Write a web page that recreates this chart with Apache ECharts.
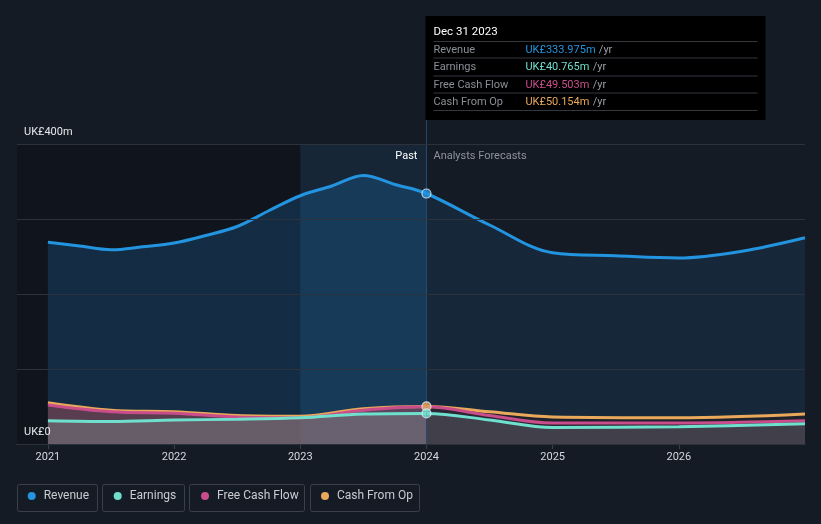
<!DOCTYPE html>
<html><head><meta charset="utf-8">
<script src="https://cdn.jsdelivr.net/npm/echarts@6/dist/echarts.min.js"></script>
<style>html,body{margin:0;padding:0;background:#151b25;}#c{width:821px;height:524px;}</style>
</head><body><div id="c"></div>
<script>
// ---- data ----
const yearTicks = [2021, 2022, 2023, 2024, 2025, 2026];
const yTicks = [0, 100, 200, 300, 400];
const yLabelTicks = [0, 400];
const seriesNames = ['Revenue', 'Earnings', 'Free Cash Flow', 'Cash From Op'];
const seriesColors = ['#2394df', '#6fe0cd', '#c94d8a', '#e9a85a'];
const revenue = [[2021,269],[2021.25,264],[2021.5,259],[2021.75,263],[2022,268],[2022.25,278],[2022.5,290],[2022.75,311],[2023,331],[2023.25,344],[2023.5,358],[2023.75,346],[2024,334],[2024.5,292],[2025,255],[2025.5,251],[2026,248],[2026.5,257],[2027,275]];
const earnings = [[2021,31],[2021.5,30],[2022,32],[2022.5,33],[2023,35],[2023.5,40],[2024,40.765],[2024.5,32],[2025,22],[2026,23],[2027,27]];
const freeCashFlow = [[2021,52],[2021.5,43],[2022,41],[2022.5,36],[2023,35],[2023.5,45],[2024,49.503],[2024.5,38],[2025,28],[2026,28],[2027,31]];
const cashFromOp = [[2021,55],[2021.5,45],[2022,43],[2022.5,38],[2023,37],[2023.5,47],[2024,50.154],[2024.5,43],[2025,36],[2026,35],[2027,40]];
const pastStart = 2023, nowX = 2024;
const xMin = 2020.755, xMax = 2027;
const tooltipDate = 'Dec 31 2023';
const tooltipValues = ['UK£333.975m', 'UK£40.765m', 'UK£49.503m', 'UK£50.154m'];
const dotValues = [[2024,333.975,0],[2024,50.154,3],[2024,40.765,1]];

const chart = echarts.init(document.getElementById('c'));
const FONT = 'Roboto, "Noto Sans", sans-serif';

function hGrad(past, fut) {
  return { type: 'linear', x: 0, y: 0, x2: 1, y2: 0,
    colorStops: [{offset:0,color:past},{offset:0.5,color:past},{offset:0.5,color:fut},{offset:1,color:fut}] };
}
function lineSeries(name, data, color, area, z) {
  return { name, type: 'line', data, smooth: 0.35, showSymbol: false, symbol: 'none', z,
    lineStyle: { color, width: 3 }, itemStyle: { color }, areaStyle: { color: area, opacity: 1 }, emphasis: { disabled: true } };
}

const legends = seriesNames.map((n, i) => ({
  data: [n], left: [22.7, 108.7, 196, 316][i], top: 485, icon: 'circle', itemWidth: 8, itemHeight: 8,
  selectedMode: false, textStyle: { color: '#c9ccd1', fontSize: 12, fontFamily: FONT, padding: [0,0,0,3] }
}));

const option = {
  backgroundColor: '#151b25',
  animation: false,
  grid: { left: 17, right: 16, top: 144, bottom: 80 },
  legend: legends,
  xAxis: { type: 'value', min: xMin, max: xMax,
    axisLine: { lineStyle: { color: '#3b414b' } },
    axisTick: { show: true, length: 5, lineStyle: { color: '#3b414b' }, customValues: yearTicks },
    axisLabel: { color: '#d5d8de', fontSize: 11, fontFamily: FONT, margin: 8, customValues: yearTicks, formatter: v => String(v) },
    splitLine: { show: false } },
  yAxis: { type: 'value', min: 0, max: 400, interval: 100, z: 10,
    axisLine: { show: false }, axisTick: { show: false },
    splitLine: { lineStyle: { color: '#2c323c', width: 1 } },
    axisLabel: { inside: true, margin: 7, color: '#e6e8ec', fontSize: 11, fontFamily: FONT, verticalAlign: 'bottom', padding: [0,0,6,0],
      customValues: yLabelTicks, formatter: v => v === 0 ? 'UK£0' : 'UK£' + v + 'm' } },
  series: [
    { name: 'bg', type: 'line', data: [[2021, 0]], symbol: 'none', lineStyle: { opacity: 0 }, z: 1, silent: true,
      markArea: { silent: true, data: [
        [{ xAxis: xMin, itemStyle: { color: 'rgba(0,0,0,0.2)' } }, { xAxis: pastStart }],
        [{ xAxis: pastStart, itemStyle: { color: 'rgba(33,150,243,0.09)' } }, { xAxis: nowX }]
      ] },
      markLine: { silent: true, symbol: 'none', label: { show: false }, lineStyle: { color: '#22496e', width: 1, type: 'solid' }, data: [{ xAxis: nowX }] } },
    lineSeries('Revenue', revenue, seriesColors[0], hGrad('rgba(33,150,243,0.18)', 'rgba(33,150,243,0.1)'), 2),
    lineSeries('Cash From Op', cashFromOp, seriesColors[3], hGrad('rgba(200,90,90,0.35)', 'rgba(40,30,30,0.5)'), 3),
    lineSeries('Free Cash Flow', freeCashFlow, seriesColors[2], hGrad('rgba(204,79,142,0.05)', 'rgba(204,79,142,0.08)'), 3),
    lineSeries('Earnings', earnings, seriesColors[1], hGrad('rgba(120,130,135,0.45)', 'rgba(110,120,125,0.3)'), 3),
    { name: 'dots', type: 'scatter', z: 6, silent: true, symbolSize: 9,
      data: dotValues.map(d => ({ value: [d[0], d[1]], itemStyle: { color: seriesColors[d[2]], borderColor: '#e8eef5', borderWidth: 1.2 } })) }
  ]
};
chart.setOption(option);

// annotations positioned from the axis scale
const px = chart.convertToPixel({ gridIndex: 0 }, [nowX, 400]);
const rowY = [50, 67, 85, 102];
const sepY = [41.5, 58, 76, 93, 110.5];
const g = [
  { type: 'line', shape: { x1: px[0], y1: 118, x2: px[0], y2: px[1] }, style: { stroke: '#22496e', lineWidth: 1 }, z: 50 },
  { type: 'text', x: px[0] - 9, y: px[1] + 12.5, style: { text: 'Past', fill: '#ffffff', font: '11px ' + FONT, align: 'right', verticalAlign: 'middle' }, z: 50 },
  { type: 'text', x: px[0] + 7, y: px[1] + 12.5, style: { text: 'Analysts Forecasts', fill: '#8c929b', font: '11px ' + FONT, align: 'left', verticalAlign: 'middle' }, z: 50 },
  { type: 'rect', shape: { x: px[0] - 1, y: 16, width: 340, height: 104 }, style: { fill: '#000000' }, z: 60 },
  { type: 'text', x: px[0] + 7, y: 32, style: { text: tooltipDate, fill: '#ffffff', font: '11.5px ' + FONT, verticalAlign: 'middle' }, z: 61 }
];
sepY.forEach(y => g.push({ type: 'line', shape: { x1: px[0] + 7, y1: y, x2: px[0] + 331, y2: y }, style: { stroke: '#34373c', lineWidth: 1 }, z: 61 }));
seriesNames.forEach((n, i) => {
  g.push({ type: 'text', x: px[0] + 7, y: rowY[i], style: { text: n, fill: '#8a8f97', font: '11px ' + FONT, verticalAlign: 'middle' }, z: 61 });
  g.push({ type: 'text', x: px[0] + 99, y: rowY[i], style: { text: '{v|' + tooltipValues[i] + '} {u|/yr}', verticalAlign: 'middle',
    rich: { v: { fill: seriesColors[i], font: '11px ' + FONT }, u: { fill: '#9a9fa7', font: '11px ' + FONT } } }, z: 61 });
});
const boxes = [[17, 80], [102, 82], [189, 115], [310, 109]];
boxes.forEach(b => g.push({ type: 'rect', shape: { x: b[0] + 0.5, y: 484.5, width: b[1], height: 27, r: 2 }, style: { fill: 'none', stroke: '#3a3f48', lineWidth: 1 }, z: 0 }));
chart.setOption({ graphic: g });
</script></body></html>
